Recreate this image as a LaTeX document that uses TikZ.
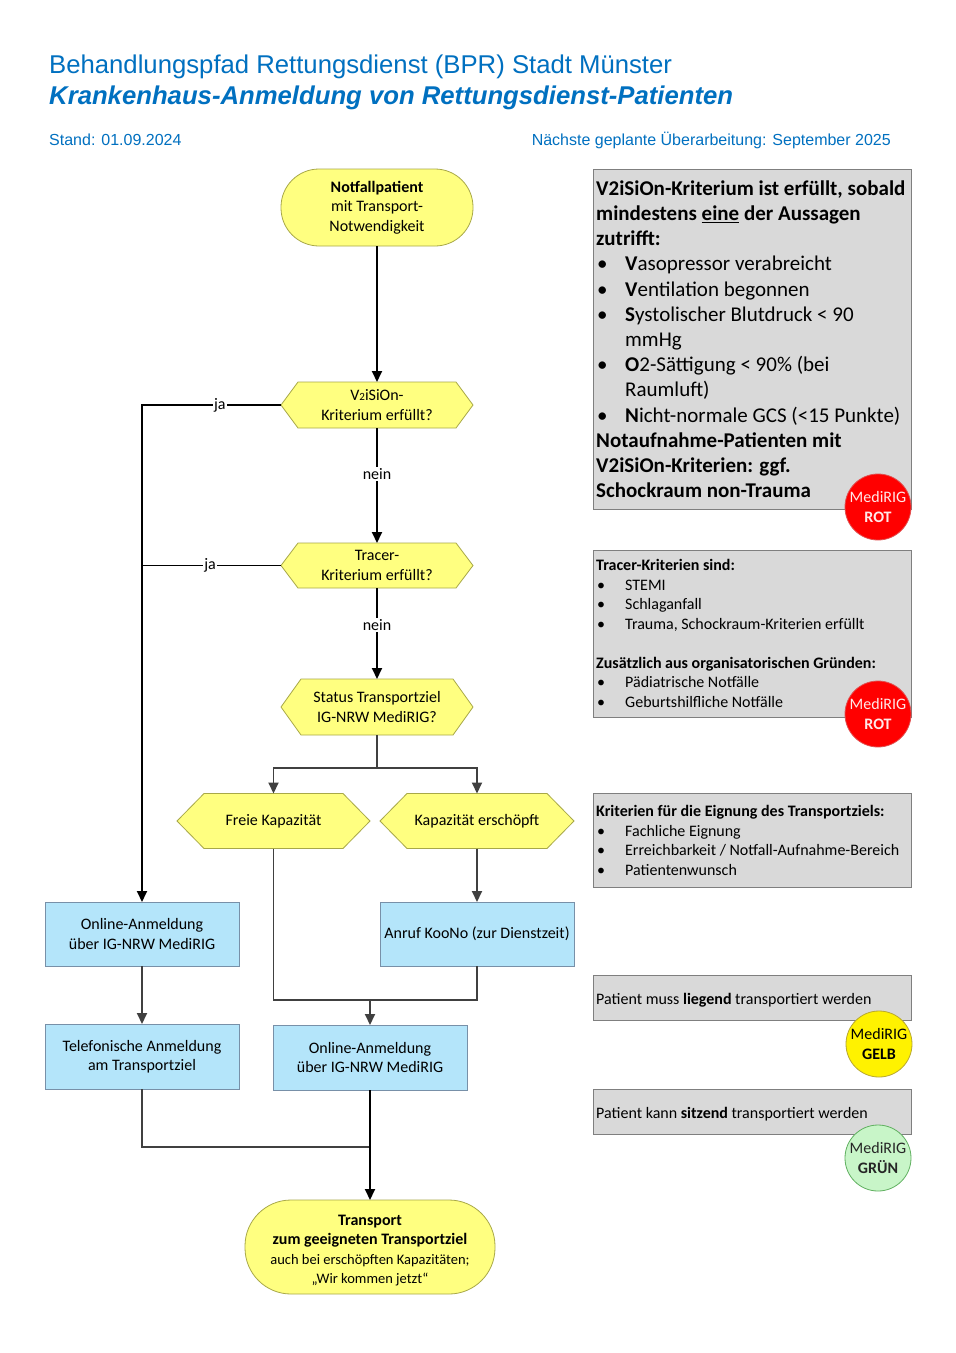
\documentclass[tikz,border=0pt]{standalone}
\usepackage{fontspec}
\setmainfont{Carlito}
\newfontfamily\arialfont{Liberation Sans}
\usetikzlibrary{arrows.meta,calc}
\pgfdeclarelayer{bg}
\pgfdeclarelayer{paper}
\pgfsetlayers{paper,bg,main}
\definecolor{titleblue}{HTML}{0070C0}
\definecolor{flowyellow}{HTML}{FFFF80}
\definecolor{flowyellowline}{HTML}{A8A848}
\definecolor{boxblue}{HTML}{B4E5FA}
\definecolor{boxblueline}{HTML}{7890A8}
\definecolor{panelgray}{HTML}{D9D9D9}
\definecolor{panelline}{HTML}{7F7F7F}
\definecolor{edgedark}{HTML}{404040}
\definecolor{redtext}{HTML}{FFE8E8}
\definecolor{redline}{HTML}{E05050}
\definecolor{gelbline}{HTML}{B8A830}
\definecolor{gruenfill}{HTML}{C8F5C8}
\definecolor{gruenline}{HTML}{60B060}
\tikzset{
  ftext/.style={font=\fontsize{16}{19.5}\selectfont, align=center},
  term/.style={ftext, draw=flowyellowline, fill=flowyellow, line width=0.8pt, outer sep=0pt, inner sep=0pt},
  hexbox/.style={ftext, draw=none, fill=none, outer sep=0pt, inner sep=0pt},
  hexshape/.style={draw=flowyellowline, fill=flowyellow, line width=0.8pt},
  bluebox/.style={ftext, draw=boxblueline, fill=boxblue, line width=0.8pt, outer sep=0pt, inner sep=0pt},
  panel/.style={draw=panelline, fill=panelgray, line width=0.9pt, anchor=north west, inner sep=0pt, outer sep=0pt},
  ptext/.style={font=\fontsize{16}{19.5}\selectfont, align=left, inner sep=0pt, anchor=north west},
  badge/.style={circle, minimum size=66pt, inner sep=0pt, line width=0.8pt, font=\fontsize{16}{19.5}\selectfont, align=center},
  flowk/.style={line width=1.8pt, draw=black},
  flowd/.style={line width=1.8pt, draw=edgedark},
  arr/.style={-{Triangle[width=10pt,length=11pt]}},
  lbl/.style={fill=white, inner sep=1.5pt, font=\fontsize{16}{19.5}\selectfont},
}
\newcommand{\hexnode}[7]{%
  \node[hexbox, minimum width=#4pt, minimum height=#5pt] (#1) at (#2,#3) {#7};
  \begin{pgfonlayer}{bg}
  \path[hexshape] (#1.west) -- ($(#1.north west)+(#6,0)$) -- ($(#1.north east)+(-#6,0)$) -- (#1.east) -- ($(#1.south east)+(-#6,0)$) -- ($(#1.south west)+(#6,0)$) -- cycle;
  \end{pgfonlayer}}
\newcommand{\bul}{\makebox[29pt][l]{\hspace{1pt}\textbullet}}
\newcommand{\bulind}{\hspace*{29pt}}
\begin{document}
\begin{tikzpicture}[x=1pt,y=-1pt]
\useasboundingbox (0,0) rectangle (956,1353);
\begin{pgfonlayer}{paper}
\fill[white] (0,0) rectangle (956,1353);
\end{pgfonlayer}

% header
\node[anchor=base west, inner sep=0pt, text=titleblue, font=\arialfont\fontsize{25.7}{30}\selectfont] (title1) at (49,73) {Behandlungspfad Rettungsdienst (BPR) Stadt Münster};
\node[anchor=base west, inner sep=0pt, text=titleblue, font=\arialfont\bfseries\itshape\fontsize{25.7}{30}\selectfont] (title2) at (49,104) {Krankenhaus-Anmeldung von Rettungsdienst-Patienten};
\node[anchor=base west, inner sep=0pt, text=titleblue, font=\arialfont\fontsize{16}{19}\selectfont] (stand) at (49,145) {Stand: 01.09.2024};
\node[anchor=base east, inner sep=0pt, text=titleblue, font=\arialfont\fontsize{16}{19}\selectfont] (naechste) at (891,145) {Nächste geplante Überarbeitung: September 2025};

% flow nodes
\node[term, minimum width=192pt, minimum height=77pt, rounded corners=38pt] (start) at (377,207.5) {\textbf{Notfallpatient}\\mit Transport-\\Notwendigkeit};
\hexnode{d1}{377}{405}{192}{46}{17}{V{\fontsize{11}{11}\selectfont 2}iSiOn-\\Kriterium erfüllt?}
\hexnode{d2}{377}{565.5}{192}{45}{17}{Tracer-\\Kriterium erfüllt?}
\hexnode{d3}{377}{707}{192}{56}{20}{Status Transportziel\\IG-NRW MediRIG?}
\hexnode{free}{273.5}{821}{193}{55}{27}{Freie Kapazität}
\hexnode{exh}{477}{821}{194}{55}{27}{Kapazität erschöpft}
\node[bluebox, minimum width=194pt, minimum height=64pt] (anruf) at (477,934) {Anruf KooNo (zur Dienstzeit)};
\node[bluebox, minimum width=194pt, minimum height=64pt] (onl) at (142,934) {Online-Anmeldung\\über IG-NRW MediRIG};
\node[bluebox, minimum width=194pt, minimum height=65pt] (tel) at (142,1056.5) {Telefonische Anmeldung\\am Transportziel};
\node[bluebox, minimum width=194pt, minimum height=65pt] (onm) at (370,1057.5) {Online-Anmeldung\\über IG-NRW MediRIG};
\node[term, minimum width=250pt, minimum height=94pt, rounded corners=46pt] (trans) at (370,1247) {\rule{0pt}{17pt}\textbf{Transport}\\\textbf{zum geeigneten Transportziel}\\{\fontsize{14.5}{18}\selectfont auch bei erschöpften Kapazitäten;}\\{\fontsize{14.5}{18}\selectfont „Wir kommen jetzt“}};

% connectors
\coordinate (sp) at (377,768);
\coordinate (mg) at (370,1000);
\coordinate (mg2) at (370,1147);
\draw[flowk, arr] (start) -- (d1);
\draw[flowk, arr] (d1.west) -- node[lbl, pos=0.44] {ja} (d1.west -| onl.north) -- (onl.north);
\draw[flowk] (d2.west) -- node[lbl, pos=0.51] {ja} (d2.west -| onl.north);
\draw[flowk, arr] (d1) -- node[lbl, pos=0.4] {nein} (d2);
\draw[flowk, arr] (d2) -- node[lbl, pos=0.41] {nein} (d3);
\draw[flowd] (d3.south) -- (sp);
\draw[flowd, arr] (sp) -| (free.north);
\draw[flowd, arr] (sp) -| (exh.north);
\draw[flowd, arr] (exh) -- (anruf);
\draw[flowd] (free.south) |- (mg);
\draw[flowd] (anruf.south) |- (mg);
\draw[flowd, arr] (mg) -- (onm.north);
\draw[flowd, arr] (onl) -- (tel);
\draw[flowd] (tel.south) |- (mg2);
\draw[flowk, arr] (onm.south) -- (trans.north);

% right panels
\node[panel, minimum width=318pt, minimum height=340pt] (p1) at (593,169) {};
\node[ptext, font=\fontsize{21}{25.2}\selectfont] (p1t) at (596,177.4) {\strut\textbf{V2iSiOn-Kriterium ist erfüllt, sobald}\\
\textbf{mindestens \underline{eine} der Aussagen}\\
\textbf{zutrifft:}\\
\bul\textbf{V}asopressor verabreicht\\
\bul\textbf{V}entilation begonnen\\
\bul\textbf{S}ystolischer Blutdruck < 90\\
\bulind mmHg\\
\bul\textbf{O}2-Sättigung < 90\% (bei\\
\bulind Raumluft)\\
\bul\textbf{N}icht-normale GCS (<15 Punkte)\\
\textbf{Notaufnahme-Patienten mit}\\
\textbf{V2iSiOn-Kriterien: ggf.}\\
\textbf{Schockraum non-Trauma}};

\node[panel, minimum width=318pt, minimum height=167pt] (p2) at (593,550) {};
\node[ptext] (p2t) at (596,557) {\strut\textbf{Tracer-Kriterien sind:}\\
\bul STEMI\\
\bul Schlaganfall\\
\bul Trauma, Schockraum-Kriterien erfüllt\\
\strut\\
\textbf{Zusätzlich aus organisatorischen Gründen:}\\
\bul Pädiatrische Notfälle\\
\bul Geburtshilfliche Notfälle};

\node[panel, minimum width=318pt, minimum height=94pt] (p3) at (593,793) {};
\node[ptext] (p3t) at (596,803) {\strut\textbf{Kriterien für die Eignung des Transportziels:}\\
\bul Fachliche Eignung\\
\bul Erreichbarkeit / Notfall-Aufnahme-Bereich\\
\bul Patientenwunsch};

\node[panel, minimum width=318pt, minimum height=45pt] (p4) at (593,975) {};
\node[anchor=base west, inner sep=0pt, font=\fontsize{16}{19.5}\selectfont] (p4t) at (596,1004.5) {Patient muss \textbf{liegend} transportiert werden};

\node[panel, minimum width=318pt, minimum height=45pt] (p5) at (593,1089) {};
\node[anchor=base west, inner sep=0pt, font=\fontsize{16}{19.5}\selectfont] (p5t) at (596,1118.5) {Patient kann \textbf{sitzend} transportiert werden};

% badges
\node[badge, fill=red, draw=redline, text=redtext] (b1) at (878,507) {MediRIG\\\textbf{ROT}};
\node[badge, fill=red, draw=redline, text=redtext] (b2) at (878,714) {MediRIG\\\textbf{ROT}};
\node[badge, fill=yellow, draw=gelbline, text=black] (b3) at (879,1044) {MediRIG\\\textbf{GELB}};
\node[badge, fill=gruenfill, draw=gruenline, text=black!85] (b4) at (878,1158) {MediRIG\\\textbf{GRÜN}};
\end{tikzpicture}
\end{document}
